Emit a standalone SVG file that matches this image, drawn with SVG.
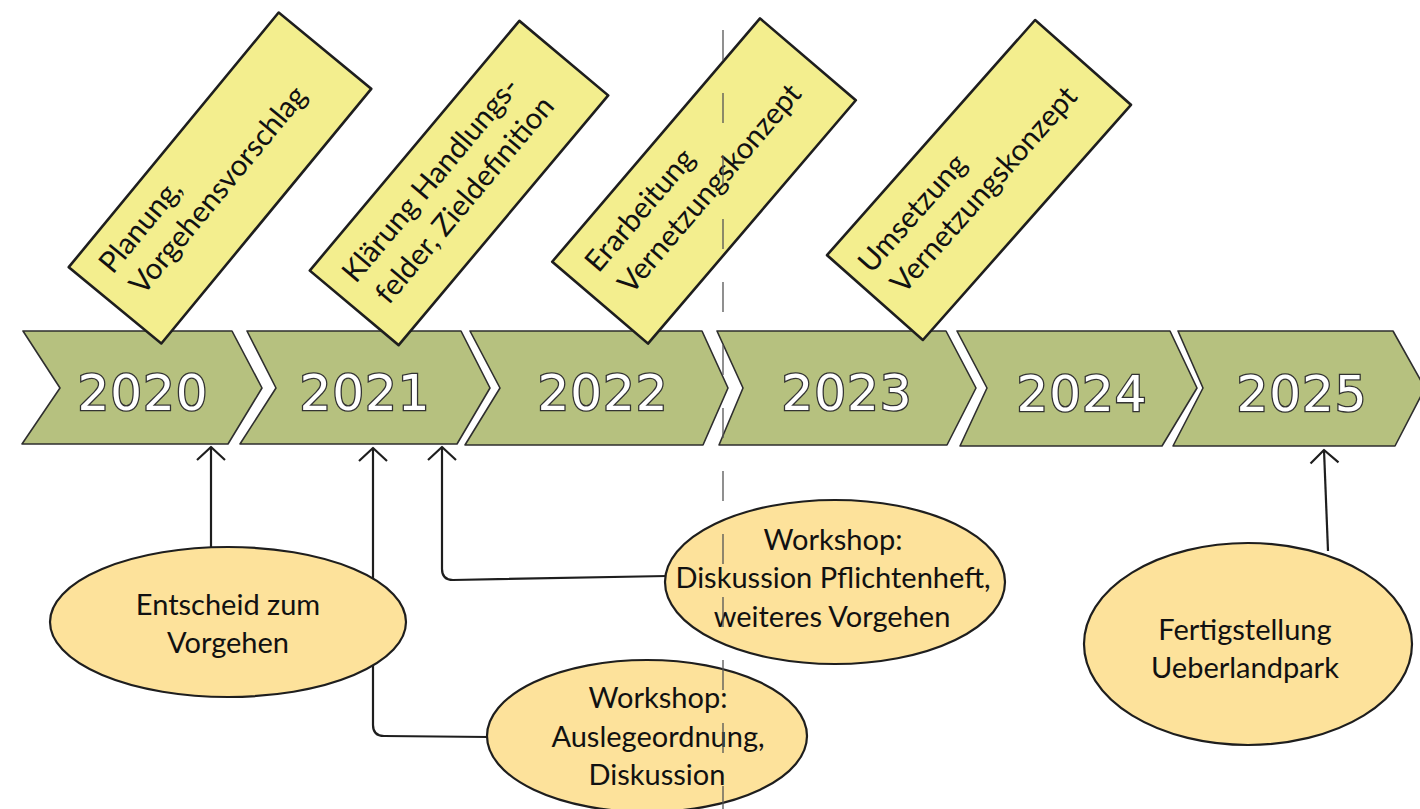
<svg xmlns="http://www.w3.org/2000/svg" width="1420" height="809" viewBox="0 0 1420 809">
  <defs>
    <style>
      .chev { fill: #b6c17f; stroke: #2e2e2e; stroke-width: 1.6; stroke-linejoin: round; }
      .year { font-family: "DejaVu Sans", "Liberation Sans", sans-serif; font-size: 50px; fill: #ffffff; stroke: #333333; stroke-width: 2.6; paint-order: stroke; text-anchor: middle; letter-spacing: 1px; }
      .box { fill: #f3ee8e; stroke: #1e1e1e; stroke-width: 2.6; stroke-linejoin: round; }
      .boxtxt { font-family: "Lato", "Open Sans", sans-serif; font-size: 29.5px; fill: #111111; }
      .ell { fill: #fde29b; stroke: #1e1e1e; stroke-width: 2.2; }
      .elltxt { font-family: "Lato", "Open Sans", sans-serif; font-size: 29px; fill: #111111; text-anchor: middle; }
      .conn { fill: none; stroke: #1e1e1e; stroke-width: 2.2; stroke-linejoin: round; }
      .dash { stroke: #555555; stroke-width: 1.3; stroke-dasharray: 30 33; fill: none; }
    </style>
    <marker id="open" viewBox="-16 -16 20 32" refX="0" refY="0" markerWidth="20" markerHeight="32" markerUnits="userSpaceOnUse" orient="auto">
      <path d="M-13,-14 L0,0 L-13,14" fill="none" stroke="#1e1e1e" stroke-width="2.2" stroke-linejoin="round"/>
    </marker>
  </defs>

  <rect x="0" y="0" width="1420" height="809" fill="#ffffff"/>

  <g id="timeline">
    <g id="y2020">
      <path class="chev" d="M23,331 L232,331 L262,388 L228,444 L22,444 L60,388 Z"/>
      <text class="year" x="143" y="410">2020</text>
    </g>
    <g id="y2021">
      <path class="chev" d="M247,331 L461,331 L490,388 L457,444 L240,444 L276,388 Z"/>
      <text class="year" x="365" y="410">2021</text>
    </g>
    <g id="y2022">
      <path class="chev" d="M470,331 L702,331 L728,388 L703,445 L465,445 L500,388 Z"/>
      <text class="year" x="603" y="410">2022</text>
    </g>
    <g id="y2023">
      <path class="chev" d="M717,331 L946,331 L976,388 L947,445 L719,445 L743,388 Z"/>
      <text class="year" x="847" y="410">2023</text>
    </g>
    <g id="y2024">
      <path class="chev" d="M957,331 L1170,331 L1197,388 L1162,446 L960,446 L987,388 Z"/>
      <text class="year" x="1082" y="411">2024</text>
    </g>
    <g id="y2025">
      <path class="chev" d="M1178,331 L1393,331 L1425,388 L1395,446 L1173,446 L1203,388 Z"/>
      <text class="year" x="1302" y="411">2025</text>
    </g>
  </g>

  <g id="phase1" transform="translate(220,178) rotate(-50.5)">
    <rect class="box" x="-165" y="-60" width="330" height="120"/>
    <text class="boxtxt" x="-143" y="-21">Planung,</text>
    <text class="boxtxt" x="-140" y="16">Vorgehensvorschlag</text>
  </g>
  <g id="phase2" transform="translate(459,183) rotate(-50)">
    <rect class="box" x="-163" y="-58" width="326" height="116"/>
    <text class="boxtxt" x="-144" y="-14">Klärung Handlungs-</text>
    <text class="boxtxt" x="-139" y="25">felder, Zieldefinition</text>
  </g>
  <g id="phase3" transform="translate(704,181) rotate(-49.5)">
    <rect class="box" x="-160" y="-63" width="320" height="126"/>
    <text class="boxtxt" x="-139" y="-20">Erarbeitung</text>
    <text class="boxtxt" x="-134" y="19">Vernetzungskonzept</text>
  </g>
  <g id="phase4" transform="translate(979,180) rotate(-48.5)">
    <rect class="box" x="-157" y="-64" width="314" height="128"/>
    <text class="boxtxt" x="-142" y="-18">Umsetzung</text>
    <text class="boxtxt" x="-136" y="20">Vernetzungskonzept</text>
  </g>

  <g id="connectors">
    <path class="conn" d="M211,548 L211,447" marker-end="url(#open)"/>
    <path class="conn" d="M489,737 L384,736 Q373,736 373,725 L373,448" marker-end="url(#open)"/>
    <path class="conn" d="M667,576 L453,580 Q442,580 442,569 L442,447" marker-end="url(#open)"/>
    <path class="conn" d="M1328,551 L1324,450" marker-end="url(#open)"/>
  </g>

  <g id="event1">
    <ellipse class="ell" cx="228" cy="622" rx="178" ry="75"/>
    <text class="elltxt" x="228" y="615">Entscheid zum</text>
    <text class="elltxt" x="228" y="653">Vorgehen</text>
  </g>
  <g id="event2">
    <ellipse class="ell" cx="647" cy="736" rx="160" ry="76"/>
    <text class="elltxt" x="658" y="708">Workshop:</text>
    <text class="elltxt" x="658" y="747">Auslegeordnung,</text>
    <text class="elltxt" x="657" y="785">Diskussion</text>
  </g>
  <g id="event3">
    <ellipse class="ell" cx="835" cy="582" rx="170" ry="82"/>
    <text class="elltxt" x="833" y="550">Workshop:</text>
    <text class="elltxt" x="833" y="588">Diskussion Pflichtenheft,</text>
    <text class="elltxt" x="832" y="627">weiteres Vorgehen</text>
  </g>
  <g id="event4">
    <ellipse class="ell" cx="1248" cy="644" rx="164" ry="101"/>
    <text class="elltxt" x="1245" y="640">Fertigstellung</text>
    <text class="elltxt" x="1245" y="678">Ueberlandpark</text>
  </g>

  <g id="divider">
    <line class="dash" x1="723" y1="30" x2="723" y2="809"/>
  </g>
</svg>
